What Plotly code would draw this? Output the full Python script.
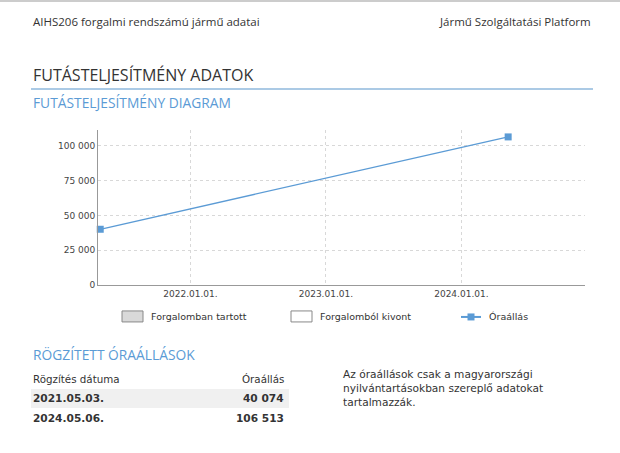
import plotly.graph_objects as go

W, H = 620, 453

dates = ["2021-05-03", "2024-05-06"]
readings = [40074, 106513]
date_labels = ["2021.05.03.", "2024.05.06."]
reading_labels = ["40 074", "106 513"]
y_ticks = [0, 25000, 50000, 75000, 100000]
y_tick_labels = ["0", "25 000", "50 000", "75 000", "100 000"]
legend_names = ["Forgalomban tartott", "Forgalomból kivont", "Óraállás"]

BLUE = "#5b9bd5"
TXT = "#333333"
FONT = "DejaVu Sans"
HFONT = "Open Sans"
K = 1.011  # vertical calibration

def px(x):
    return x / W

def py(y):
    return 1 - (y * K) / H

fig = go.Figure()
fig.add_trace(go.Scatter(
    x=dates, y=readings, mode="lines+markers",
    line=dict(color=BLUE, width=1.3),
    marker=dict(symbol="square", size=7, color=BLUE),
    showlegend=False, cliponaxis=False,
))

ann = []
shapes = []

def text(x, y, s, size, color=TXT, anchor="left", font=FONT, bold=False):
    if bold:
        s = "<b>" + s + "</b>"
    ann.append(dict(x=px(x), y=py(y), xref="paper", yref="paper", text=s,
                    showarrow=False, xanchor=anchor, yanchor="middle",
                    font=dict(family=font, size=size, color=color)))

# top border
shapes.append(dict(type="line", xref="paper", yref="paper", x0=0, x1=1,
                   y0=py(1), y1=py(1), line=dict(color="#cccccc", width=2)))
text(31, 22, "AIHS206 forgalmi rendszámú jármű adatai", 11.5, font=HFONT)
text(593, 22, "Jármű Szolgáltatási Platform", 11.5, anchor="right", font=HFONT)
text(31, 75, "FUTÁSTELJESÍTMÉNY ADATOK", 16, font=HFONT)
shapes.append(dict(type="line", xref="paper", yref="paper", x0=px(31), x1=px(593),
                   y0=py(89), y1=py(89), line=dict(color="#8fb9dc", width=1.5)))
text(31, 103, "FUTÁSTELJESÍTMÉNY DIAGRAM", 13.8, color=BLUE, font=HFONT)

# legend
shapes.append(dict(type="rect", xref="paper", yref="paper", x0=px(122), x1=px(143),
                   y0=py(322), y1=py(311), fillcolor="#d9d9d9", line=dict(color="#888", width=1)))
text(149, 317, legend_names[0], 9.5)
shapes.append(dict(type="rect", xref="paper", yref="paper", x0=px(291), x1=px(312),
                   y0=py(322), y1=py(311), fillcolor="white", line=dict(color="#888", width=1)))
text(318, 317, legend_names[1], 9.5)
shapes.append(dict(type="line", xref="paper", yref="paper", x0=px(461), x1=px(481),
                   y0=py(317), y1=py(317), line=dict(color=BLUE, width=2)))
shapes.append(dict(type="rect", xref="paper", yref="paper", x0=px(467.5), x1=px(474.5),
                   y0=py(320.5), y1=py(313.5), fillcolor=BLUE, line=dict(width=0)))
text(487, 317, legend_names[2], 9.5)

# recorded readings
text(31, 355, "RÖGZÍTETT ÓRAÁLLÁSOK", 13.8, color=BLUE, font=HFONT)
text(31, 379, "Rögzítés dátuma", 10.3)
text(286, 379, "Óraállás", 10.3, anchor="right")
row_y = [398, 418]
for i, (d, r) in enumerate(zip(date_labels, reading_labels)):
    if i == 0:
        shapes.append(dict(type="rect", xref="paper", yref="paper", x0=px(31), x1=px(289),
                           y0=py(408), y1=py(389), fillcolor="#f0f0f0", line=dict(width=0),
                           layer="below"))
    text(31, row_y[i], d, 10.6, bold=True)
    text(286, row_y[i], r, 10.6, anchor="right", bold=True)

ann.append(dict(x=px(341), y=py(366), xref="paper", yref="paper",
                text="Az óraállások csak a magyarországi<br>nyilvántartásokban szereplő adatokat<br>tartalmazzák.",
                showarrow=False, xanchor="left", yanchor="top", align="left",
                font=dict(family=FONT, size=10.6, color=TXT)))

fig.update_layout(
    width=W, height=H, margin=dict(l=0, r=0, t=0, b=0),
    paper_bgcolor="white", plot_bgcolor="white",
    annotations=ann, shapes=shapes,
    xaxis=dict(domain=[px(98), px(585)], type="date",
               range=["2021-04-27", "2024-11-29"],
               tick0="2022-01-01", dtick="M12", tickformat="%Y.%m.%d.",
               showgrid=True, gridcolor="#d8d8d8", griddash="3px,3px", gridwidth=1,
               showline=True, linecolor="#999999", linewidth=1,
               ticks="", tickfont=dict(family=FONT, size=9, color="#444"),
               zeroline=False, fixedrange=True),
    yaxis=dict(domain=[py(285), py(130)], range=[0, 111500],
               tickvals=y_ticks, ticktext=y_tick_labels,
               showgrid=True, gridcolor="#d8d8d8", griddash="3px,3px", gridwidth=1,
               showline=True, linecolor="#999999", linewidth=1,
               ticks="", ticklen=0, tickfont=dict(family=FONT, size=9, color="#444"),
               zeroline=False, fixedrange=True),
    showlegend=False,
)

fig.write_html("out.html", config={"displayModeBar": False},
               post_script="document.body.style.margin='0';document.body.style.overflow='hidden';")
